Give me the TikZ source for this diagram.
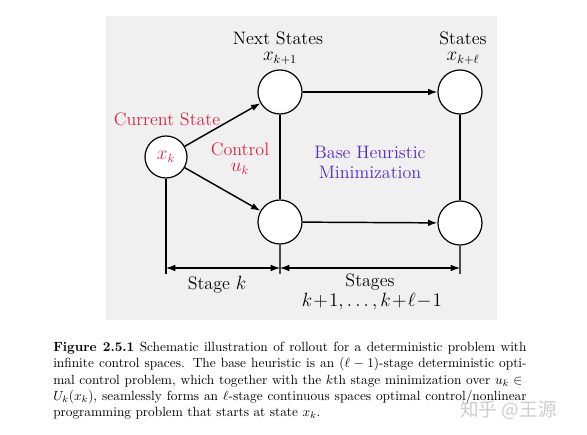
\documentclass[tikz,border=0pt]{standalone}
\usepackage{fontspec}
\newfontfamily\cjk{Noto Sans CJK SC}
\usetikzlibrary{arrows.meta}
\definecolor{bggray}{RGB}{240,240,240}
\definecolor{cred}{RGB}{222,35,70}
\definecolor{cpurple}{RGB}{85,40,205}
\definecolor{wmark}{RGB}{205,205,205}
\tikzset{
  state/.style={circle,draw=black,fill=white,line width=0.9pt,minimum size=33pt,inner sep=0pt},
  small/.style={circle,draw=black,fill=white,line width=0.9pt,minimum size=31.5pt,inner sep=0pt},
  ctrl/.style={line width=1.1pt,-{Latex[length=7pt,width=5pt]}},
  link/.style={line width=0.8pt},
  dim/.style={line width=0.8pt,{Latex[length=7pt,width=5pt]}-{Latex[length=7pt,width=5pt]}},
  lbl/.style={font=\fontsize{13.5}{15}\selectfont,inner sep=0pt},
}
\begin{document}
\begin{tikzpicture}[x=0.75pt,y=-0.75pt]
\useasboundingbox (0,0) rectangle (587,435);
\fill[white] (0,0) rectangle (587,435);
\fill[bggray] (106,16) rectangle (497,320);
% nodes
\node[small] (xk) at (166,157) {};
\node[lbl,text=cred] (xkl) at (166,157) {$x_k$};
\node[state] (n1) at (280,92) {};
\node[state] (n2) at (280,222) {};
\node[state] (s1) at (460,92) {};
\node[state] (s2) at (460,223) {};
% labels
\node[lbl] (ns) at (278,38) {Next States};
\node[lbl] (nsx) at (280,58) {$x_{k+1}$};
\node[lbl] (st) at (463,38) {States};
\node[lbl] (stx) at (463,58) {$x_{k+\ell}$};
\node[lbl,text=cred] (cs) at (167,119) {Current State};
\node[lbl,text=cred] (ct) at (240,149) {Control};
\node[lbl,text=cred] (uk) at (240,169) {$u_k$};
\node[lbl,text=cpurple] (bh) at (370,152) {Base Heuristic};
\node[lbl,text=cpurple] (mn) at (370,172) {Minimization};
% connectors
\draw[ctrl] (xk) -- (n1);
\draw[ctrl] (xk) -- (n2);
\draw[ctrl] (n1) -- (s1);
\draw[ctrl] (n2) -- (s2);
\draw[link] (n1) -- (n2);
\draw[link] (s1) -- (s2);
% dimension lines
\coordinate (b0) at (166,274);
\coordinate (b1) at (280,274);
\coordinate (b2) at (460,274);
\coordinate (d0) at (166,268);
\coordinate (d1) at (280,268);
\coordinate (d2) at (460,268);
\draw[link] (xk) -- (b0);
\draw[link,draw=black!70] (n2) -- (b1);
\draw[link,draw=black!70] (s2) -- (b2);
\draw[dim] (d0) -- (d1);
\draw[dim] (d1) -- (d2);
\node[lbl] (sk) at (217,285) {Stage $k$};
\node[lbl] (sgs) at (370,282) {Stages};
\node[lbl] (sgr) at (372,302) {$k\!+\!1,\ldots,k\!+\!\ell\!-\!1$};
% caption
\node[anchor=north west,inner sep=0pt,text width=355pt,align=justify,font=\fontsize{10}{12.2}\selectfont] (cap) at (53,342)
{\textbf{Figure 2.5.1} Schematic illustration of rollout for a deterministic problem with\linebreak
infinite control spaces. The base heuristic is an $(\ell-1)$-stage deterministic opti-\linebreak
mal control problem, which together with the $k$th stage minimization over $u_k\in{}$\linebreak
$U_k(x_k)$, seamlessly forms an $\ell$-stage continuous spaces optimal control/nonlinear\linebreak
programming problem that starts at state $x_k$.};
\node[anchor=west,inner sep=0pt,text=wmark,font=\cjk\fontsize{14}{17}\selectfont] (wm) at (460,410) {知乎 @王源};
\end{tikzpicture}
\end{document}
